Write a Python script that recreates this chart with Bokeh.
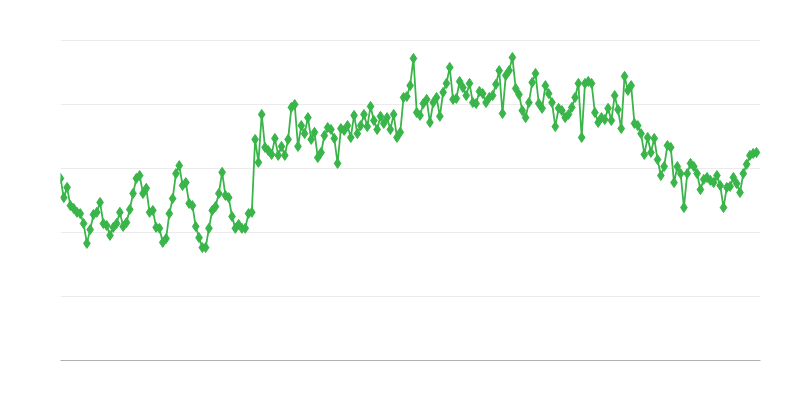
from bokeh.plotting import figure
from bokeh.models import ColumnDataSource, Range1d, FixedTicker
from bokeh.embed import file_html
from bokeh.resources import INLINE

values = [
    56.9, 50.9, 54.1, 48.4, 47.5, 46.3, 45.9, 42.8, 36.6, 40.9,
    45.6, 46.3, 49.4, 42.8, 42.2, 39.1, 41.6, 42.8, 46.3,
    41.9, 43.1, 47.2, 52.2, 56.9, 57.8, 52.2, 53.8, 46.3, 46.9,
    41.6, 41.3, 36.9, 38.1, 45.9, 50.6, 58.4, 60.9,
    54.7, 55.6, 49.1, 48.4, 41.9, 38.4, 35.3, 35.3, 41.3, 46.9,
    48.1, 52.2, 58.8, 51.6, 50.9, 45.0, 41.3, 42.5, 41.3, 41.3,
    45.9, 46.3,
    69.1, 61.9, 76.9, 66.6, 65.6, 64.4, 69.4, 64.1, 66.9, 64.1,
    69.1, 79.1, 80.0, 66.9, 73.4, 70.9, 75.9, 69.1, 71.3, 63.4,
    65.0, 70.3, 72.8, 72.2, 69.4, 61.6, 72.5, 71.9, 73.4, 69.7,
    76.6, 70.9, 73.4, 76.9, 73.1, 79.4, 75.0, 72.2, 76.3, 74.1,
    75.9, 72.2, 76.9, 69.7, 71.3, 82.2, 82.5, 85.9, 94.4,
    77.5, 76.6, 80.3, 81.6,
    74.4, 80.6, 82.2, 76.3, 83.8, 86.6, 91.6, 81.6, 81.9, 87.2,
    85.3, 82.8, 86.6, 80.6, 80.3, 84.1, 83.4, 80.6, 82.2, 82.8,
    86.3, 90.6, 77.2, 89.1, 90.6, 94.7, 85.0, 83.1, 78.1,
    75.9, 80.6, 86.9, 89.7, 80.3, 78.8, 85.9, 83.4,
    80.6, 73.1, 78.8, 78.1, 75.9, 76.9, 79.1, 82.2, 86.6, 69.7,
    86.6, 87.2, 86.6, 77.5, 74.4, 75.9, 75.3, 78.8, 75.0, 82.8,
    78.4, 72.5, 88.8, 84.4, 85.9, 74.1, 73.4, 70.9, 64.4, 69.7,
    65.0, 69.4, 62.8, 57.8, 60.6, 67.2, 66.6, 55.6, 60.6,
    58.4, 47.8, 58.4, 61.6, 60.6, 58.4, 53.4, 56.6, 57.2, 56.3,
    55.6, 57.8, 54.7, 47.8, 54.1, 54.4, 57.2, 55.3, 52.5,
    58.4, 61.3, 64.1, 64.7, 65.0,
]
index = list(range(len(values)))
y_ticks = [0, 20, 40, 60, 80, 100]

source = ColumnDataSource(data=dict(x=index, y=values))

n = len(values) - 1
p = figure(width=784, height=384, output_backend="svg", toolbar_location=None,
           x_range=Range1d(0, n * 700 / 696), y_range=Range1d(0, 100 * 322 / 320),
           min_border_left=60, min_border_right=24, min_border_top=38, min_border_bottom=24)
p.frame_width = 700
p.frame_height = 322
p.outline_line_color = None
p.background_fill_color = "white"
p.border_fill_color = "white"

color = "#39b54a"
p.line("x", "y", source=source, line_color=color, line_width=1.8)
p.scatter("x", "y", source=source, marker="diamond", size=10,
          fill_color=color, line_color=color)

p.xgrid.visible = False
p.ygrid.ticker = FixedTicker(ticks=y_ticks)
p.ygrid.grid_line_color = "#ebebeb"
p.ygrid.grid_line_width = 1

p.yaxis.visible = False
p.xaxis.axis_line_color = "#b0b0b0"
p.xaxis.axis_line_width = 1
p.xaxis.major_tick_line_color = None
p.xaxis.minor_tick_line_color = None
p.xaxis.major_label_text_font_size = "0px"
p.xaxis.major_label_text_color = None

open("out.html", "w").write(file_html(p, INLINE))
